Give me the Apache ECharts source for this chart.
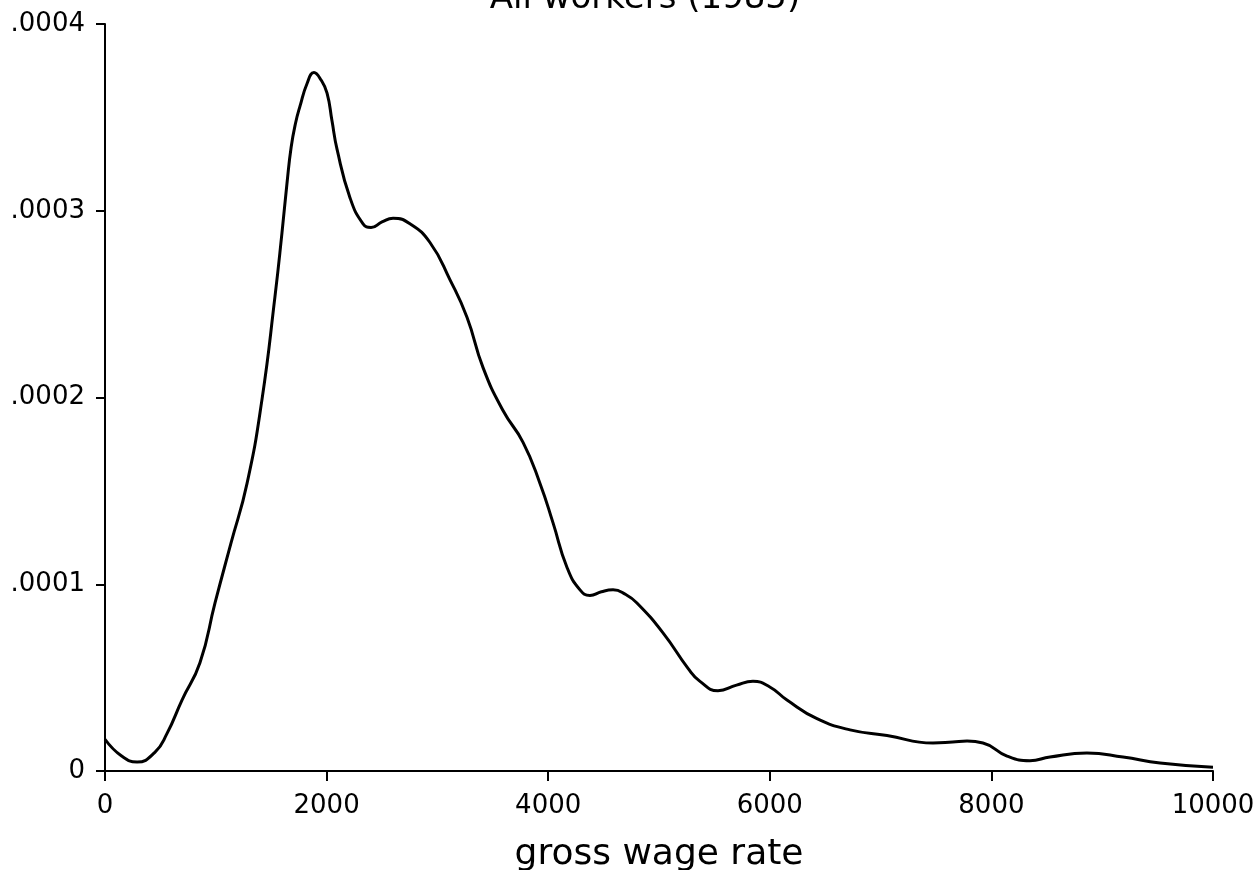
<!DOCTYPE html>
<html>
<head>
<meta charset="utf-8">
<script src="https://cdn.jsdelivr.net/npm/echarts@6/dist/echarts.min.js"></script>
<style>
html,body{margin:0;padding:0;background:#fff;}
#chart{width:1259px;height:870px;}
</style>
</head>
<body>
<div id="chart"></div>
<script>
// gross wage rate (x) and estimated density (y)
var wage = [0, 150, 289, 450, 559, 695, 857, 993, 1137, 1282, 1417, 1534, 1597, 1643, 1680, 1720, 1760, 1823, 1886, 1950, 2004, 2049, 2094, 2211, 2329, 2401, 2500, 2600, 2753, 2933, 3114, 3267, 3412, 3592, 3773, 3926, 4043, 4170, 4287, 4377, 4480, 4585, 4700, 4801, 5036, 5262, 5370, 5532, 5700, 5848, 6000, 6155, 6426, 6724, 7058, 7473, 7650, 7780, 7924, 8141, 8348, 8529, 8862, 9188, 9522, 10000];
var density = [0.0000170, 0.0000080, 0.0000048, 0.0000100, 0.0000200, 0.0000380, 0.0000580, 0.0000900, 0.0001220, 0.0001540, 0.0001990, 0.0002540, 0.0002880, 0.0003150, 0.0003340, 0.0003470, 0.0003560, 0.0003680, 0.0003740, 0.0003700, 0.0003630, 0.0003480, 0.0003330, 0.0003070, 0.0002930, 0.0002910, 0.0002940, 0.0002960, 0.0002930, 0.0002830, 0.0002630, 0.0002430, 0.0002160, 0.0001930, 0.0001760, 0.0001540, 0.0001330, 0.0001090, 0.0000970, 0.0000940, 0.0000960, 0.0000970, 0.0000945, 0.0000900, 0.0000740, 0.0000550, 0.0000480, 0.0000430, 0.0000460, 0.0000480, 0.0000450, 0.0000380, 0.0000280, 0.0000220, 0.0000190, 0.0000150, 0.0000155, 0.0000160, 0.0000150, 0.0000080, 0.0000055, 0.0000075, 0.0000096, 0.0000075, 0.0000043, 0.0000020];
var yTickLabels = ['0', '.0001', '.0002', '.0003', '.0004'];
var xTickLabels = ['0', '2000', '4000', '6000', '8000', '10000'];
var titleText = 'All workers (1985)';
var xName = 'gross wage rate';

var points = wage.map(function (w, i) { return [w, density[i]]; });
var FONT = 'DejaVu Sans';
var chart = echarts.init(document.getElementById('chart'), null, {renderer: 'canvas'});
chart.setOption({
  backgroundColor: '#fff',
  animation: false,
  title: {
    text: titleText,
    left: 640,
    textAlign: 'center',
    top: -23,
    textStyle: {fontFamily: FONT, fontSize: 34, fontWeight: 'normal', color: '#000'}
  },
  grid: {left: 105, right: 46, top: 24, bottom: 99, containLabel: false, outerBoundsMode: 'none'},
  xAxis: {
    type: 'value',
    min: 0, max: 10000, interval: 2000,
    name: xName,
    nameLocation: 'middle',
    nameGap: 66,
    nameTextStyle: {fontFamily: FONT, fontSize: 36, color: '#000'},
    axisLine: {show: true, onZero: false, lineStyle: {color: '#000', width: 2}},
    axisTick: {show: true, length: 10, lineStyle: {color: '#000', width: 2}},
    axisLabel: {
      margin: 22, fontFamily: FONT, fontSize: 26, color: '#000',
      formatter: function (v, i) { return xTickLabels[i]; }
    },
    splitLine: {show: false}
  },
  yAxis: {
    type: 'value',
    min: 0, max: 0.0004, interval: 0.0001,
    axisLine: {show: true, lineStyle: {color: '#000', width: 2}},
    axisTick: {show: true, length: 9, lineStyle: {color: '#000', width: 2}},
    axisLabel: {
      margin: 20, fontFamily: FONT, fontSize: 26, color: '#000',
      formatter: function (v, i) { return yTickLabels[i]; }
    },
    splitLine: {show: false}
  },
  series: [{
    type: 'line',
    data: points,
    smooth: 0.5,
    showSymbol: false,
    lineStyle: {color: '#000', width: 3}
  }]
});
</script>
</body>
</html>
